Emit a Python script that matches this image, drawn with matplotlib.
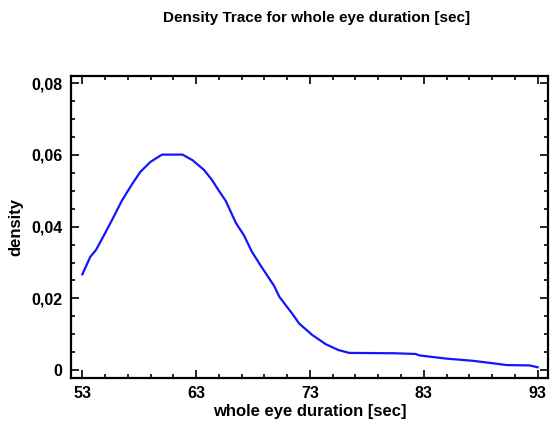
import matplotlib
matplotlib.use("Agg")
import matplotlib.pyplot as plt
from matplotlib.ticker import MultipleLocator, FixedLocator

plt.rcParams['font.family'] = ['Liberation Sans', 'DejaVu Sans']

# Density trace
duration = [53.0, 53.7, 54.2, 54.9, 55.6, 56.5, 57.4, 58.1, 59.0, 60.0, 61.8,
            62.7, 63.7, 64.4, 65.0, 65.6, 66.5, 67.2, 67.9, 68.7, 69.85,
            70.3, 71.5, 72.05, 73.2, 74.4, 75.5, 76.45, 80.4, 82.3, 82.6, 85.0,
            87.3, 89.1, 90.3, 92.3, 93.0]
density = [0.0267, 0.0316, 0.0335, 0.0376, 0.0418, 0.0474, 0.0520, 0.0553,
           0.0581, 0.0601, 0.0601, 0.0585, 0.0558, 0.0530, 0.0500, 0.0472,
           0.0410, 0.0376, 0.0330, 0.0290, 0.0235, 0.0205, 0.0155,
           0.0130, 0.0098, 0.0072, 0.0056, 0.0048, 0.0047, 0.0045, 0.0041,
           0.0032, 0.0026, 0.0019, 0.0014, 0.0013, 0.0008]

x_ticks = [53, 63, 73, 83, 93]
y_ticks = [0, 0.02, 0.04, 0.06, 0.08]
y_tick_labels = ["0", "0,02", "0,04", "0,06", "0,08"]

fig = plt.figure(figsize=(5.5, 4.25), dpi=100)
ax = fig.add_axes([0.129, 0.1106, 0.867, 0.7104])

ax.plot(duration, density, color="#1414ff", lw=1.6)

ax.set_xlim(52.0, 93.9)
ax.set_ylim(-0.0022, 0.082)

ax.xaxis.set_major_locator(FixedLocator(x_ticks))
ax.xaxis.set_minor_locator(FixedLocator([v for v in range(53, 94, 2) if v not in x_ticks]))
ax.yaxis.set_major_locator(FixedLocator(y_ticks))
ax.yaxis.set_minor_locator(MultipleLocator(0.005))
ax.set_yticklabels(y_tick_labels)
ax.set_xticklabels([str(v) for v in x_ticks])

ax.tick_params(which='both', direction='in', top=True, right=True, width=1.2)
ax.tick_params(which='major', length=6, labelsize=11.5, pad=6)
ax.tick_params(which='minor', length=3)
for lbl in ax.get_xticklabels() + ax.get_yticklabels():
    lbl.set_fontweight('bold')

for sp in ax.spines.values():
    sp.set_linewidth(1.6)

ax.set_xlabel("whole eye duration [sec]", fontsize=12, fontweight='bold', labelpad=2)
ax.set_ylabel("density", fontsize=12, fontweight='bold', labelpad=6)

fig.text(0.575, 0.958, "Density Trace for whole eye duration [sec]",
         ha='center', va='center', fontsize=11, fontweight='bold')

fig.savefig("out.png", dpi=100)
